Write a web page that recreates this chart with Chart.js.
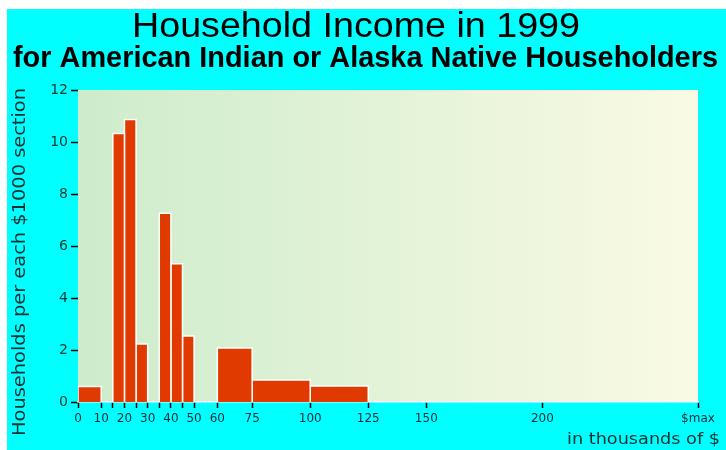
<!DOCTYPE html>
<html lang="en">
<head>
  <meta charset="UTF-8" />
  <title>Household Income in 1999</title>
  <script src="https://cdn.jsdelivr.net/npm/chart.js"></script>
  <style>
    html, body { margin: 0; padding: 0; background: #fff; }
    canvas { display: block; }
  </style>
</head>
<body>
  <canvas id="incomeChart" width="726" height="450"></canvas>

  <script>
    // bin edges in thousands of $, one value per bin (households per $1000)
    const binEdges = [0, 10, 15, 20, 25, 30, 35, 40, 45, 50, 60, 75, 100, 125, 150, 200];
    const binValues = [0.6, 0, 10.33, 10.87, 2.23, 0, 7.26, 5.32, 2.54, 0, 2.08, 0.85, 0.62, 0, 0];

    const xMax = 267;
    const xTickValues = [0, 10, 15, 20, 25, 30, 35, 40, 45, 50, 60, 75, 100, 125, 150, 200, 267];
    const xTickLabels = ["0", "10", "", "20", "", "30", "", "40", "", "50", "60", "75", "100", "125", "150", "200", "$max"];
    const yTickValues = [0, 2, 4, 6, 8, 10, 12];

    const titleText = "Household Income in 1999";
    const subtitleText = "for American Indian or Alaska Native Householders";
    const yTitleText = "Households per each $1000 section";
    const xTitleText = "in thousands of $";

    // one filled step shape per non-empty bin
    const datasets = [];
    binValues.forEach((v, i) => {
      if (!v) return;
      const lo = binEdges[i], hi = binEdges[i + 1];
      datasets.push({
        data: [{ x: lo, y: 0 }, { x: lo, y: v }, { x: hi, y: v }, { x: hi, y: 0 }],
        borderColor: "#ffffff",
        borderWidth: 1.5,
        backgroundColor: "#e03a00",
        fill: "origin",
        pointRadius: 0,
        tension: 0
      });
    });

    function fitText(ctx, text, x, y, width, align) {
      const w = ctx.measureText(text).width;
      const s = width / w;
      ctx.save();
      ctx.translate(x, y);
      ctx.scale(s, 1);
      ctx.textAlign = align || "left";
      ctx.fillText(text, 0, 0);
      ctx.restore();
    }

    const backdrop = {
      id: "backdrop",
      beforeDraw(chart) {
        const { ctx, chartArea: a } = chart;
        ctx.save();
        ctx.fillStyle = "#ffffff";
        ctx.fillRect(0, 0, chart.width, chart.height);
        ctx.fillStyle = "#00ffff";
        ctx.fillRect(7, 9, chart.width - 7, chart.height - 9);
        const g = ctx.createLinearGradient(a.left, 0, a.right, 0);
        g.addColorStop(0, "#cdeccb");
        g.addColorStop(1, "#fafae4");
        ctx.fillStyle = g;
        ctx.fillRect(a.left, a.top, a.right - a.left, a.bottom - a.top);
        ctx.restore();
      },
      afterDraw(chart) {
        const ctx = chart.ctx;
        ctx.save();
        ctx.fillStyle = "#000";
        ctx.textBaseline = "alphabetic";
        ctx.font = "35px 'Liberation Sans', Arial, sans-serif";
        fitText(ctx, titleText, 132, 37, 448);
        ctx.font = "bold 30px 'Liberation Sans', Arial, sans-serif";
        fitText(ctx, subtitleText, 13, 67, 705);

        ctx.fillStyle = "#0d3030";
        ctx.font = "17px 'DejaVu Sans', sans-serif";
        ctx.textBaseline = "middle";
        ctx.save();
        ctx.translate(21, 262);
        ctx.rotate(-Math.PI / 2);
        fitText(ctx, yTitleText, -174, 0, 348);
        ctx.restore();
        ctx.font = "16px 'DejaVu Sans', sans-serif";
        fitText(ctx, xTitleText, 567, 440, 153);
        ctx.restore();
      }
    };

    new Chart(document.getElementById("incomeChart"), {
      type: "line",
      data: { datasets: datasets },
      plugins: [backdrop],
      options: {
        responsive: false,
        animation: false,
        layout: { padding: { left: 0, right: 28, top: 90, bottom: 0 } },
        plugins: { legend: { display: false }, tooltip: { enabled: false } },
        scales: {
          x: {
            type: "linear",
            min: 0,
            max: xMax,
            afterBuildTicks: scale => { scale.ticks = xTickValues.map(v => ({ value: v })); },
            afterFit: scale => { scale.height = 48; },
            grid: { drawOnChartArea: false, color: "#000", tickLength: 6, tickWidth: 1.5 },
            border: { display: true, color: "#ffffff", width: 1.5 },
            ticks: {
              autoSkip: false,
              maxRotation: 0,
              padding: 4,
              color: "#0d2a3a",
              font: { family: "'DejaVu Sans', sans-serif", size: 12 },
              callback: (v) => xTickLabels[xTickValues.indexOf(v)]
            }
          },
          y: {
            min: 0,
            max: 12,
            afterBuildTicks: scale => { scale.ticks = yTickValues.map(v => ({ value: v })); },
            afterFit: scale => { scale.width = 78; },
            grid: { drawOnChartArea: false, color: "#000", tickLength: 7, tickWidth: 1.5 },
            border: { display: false },
            ticks: {
              padding: 3,
              color: "#0d3a30",
              font: { family: "'DejaVu Sans', sans-serif", size: 14 }
            }
          }
        }
      }
    });
  </script>
</body>
</html>
